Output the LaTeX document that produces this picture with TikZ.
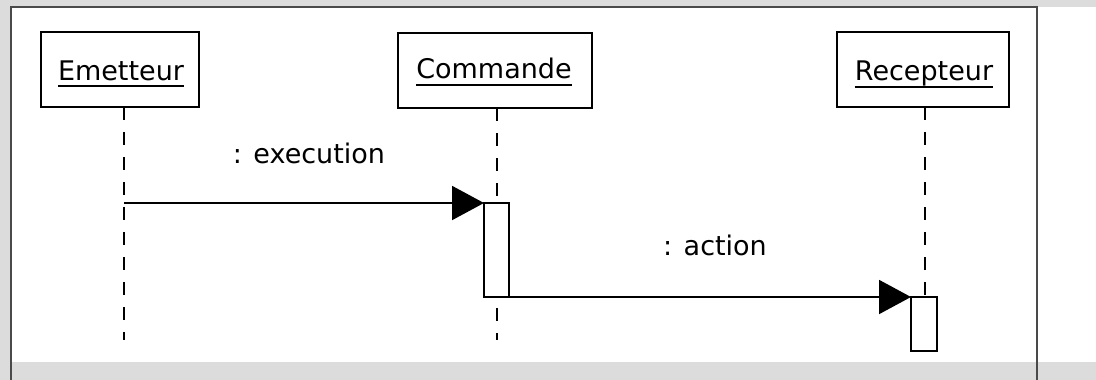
\documentclass[tikz,border=0pt]{standalone}
\usepackage{fontspec}
\setmainfont{DejaVu Sans}
\usetikzlibrary{arrows.meta}
\definecolor{panelgray}{HTML}{DCDCDC}
\definecolor{framegray}{HTML}{4A4A4A}
\begin{document}
\begin{tikzpicture}[x=1pt,y=-1pt,
  every node/.style={font=\fontsize{27}{32}\selectfont},
  objbox/.style={draw=black,line width=2pt,fill=white,minimum height=75pt,inner sep=0pt,outer sep=0pt},
  objname/.style={inner sep=0pt,anchor=base},
  uline/.style={line width=2pt},
  lifeline/.style={line width=2pt,dash pattern=on 13pt off 12pt},
  actbox/.style={draw=black,line width=2pt,fill=white,inner sep=0pt,outer sep=0pt},
  msg/.style={line width=2pt,-{Triangle[length=32pt,width=34pt]}},
  msglabel/.style={inner sep=0pt,anchor=base}]
  \useasboundingbox (0,0) rectangle (1096,380);
  % window background and frame
  \fill[panelgray] (0,0) rectangle (1096,380);
  \fill[white] (11,7) rectangle (1096,362);
  \draw[framegray,line width=2pt] (11,380) -- (11,7) -- (1037,7) -- (1037,380);

  % objects
  \node[objbox,minimum width=158pt] (em) at (120,69.5) {};
  \node[objbox,minimum width=194pt] (cmd) at (495,70.5) {};
  \node[objbox,minimum width=172pt] (rec) at (923,69.5) {};
  \node[objname] (emT) at (121,80) {Emetteur};
  \node[objname] (cmdT) at (494,78) {Commande};
  \node[objname] (recT) at (924,80) {Recepteur};
  \draw[uline] ([yshift=-6pt]emT.base west) -- ([yshift=-6pt]emT.base east);
  \draw[uline] ([yshift=-7pt]cmdT.base west) -- ([yshift=-7pt]cmdT.base east);
  \draw[uline] ([yshift=-7pt]recT.base west) -- ([yshift=-7pt]recT.base east);

  % lifeline ends
  \coordinate (emEnd) at (124,340);
  \coordinate (cmdEnd) at (497,340);
  \coordinate (recEnd) at (925,340);
  \draw[lifeline] (emEnd |- em.south) -- (emEnd);
  \draw[lifeline] (cmdEnd |- cmd.south) -- (cmdEnd);
  \draw[lifeline] (recEnd |- rec.south) -- (recEnd);

  % activations
  \node[actbox,minimum width=25pt,minimum height=94pt] (act1) at (496.5,250) {};
  \node[actbox,minimum width=26pt,minimum height=54pt] (act2) at (924,324) {};

  % messages
  \draw[msg] (act1.north west -| emEnd) -- (act1.north west);
  \draw[msg] (act1.south east) -- (act2.north west);
  \node[msglabel] (l1) at (309,163) {: execution};
  \node[msglabel] (l2) at (715,255) {: action};
\end{tikzpicture}
\end{document}
